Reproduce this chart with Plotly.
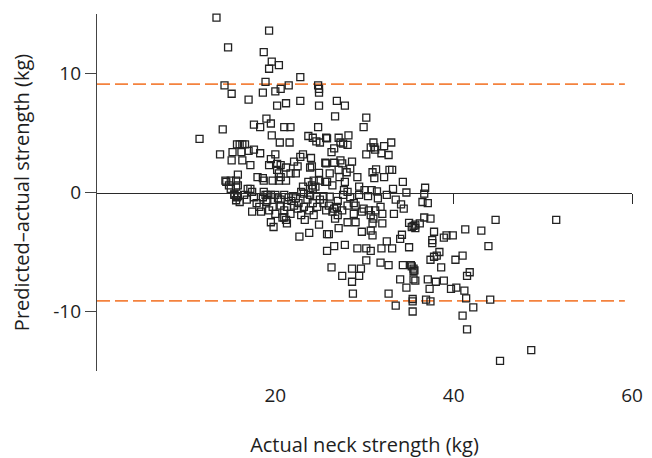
import plotly.graph_objects as go

# ---- data: (actual neck strength kg, predicted - actual kg) ----
band_10_20 = [
    (13.4, 14.7), (19.3, 13.6), (14.7, 12.2), (18.7, 11.8), (19.6, 11.0), (19.3, 10.4),
    (14.3, 9.0), (18.9, 9.3), (15.1, 8.3), (18.6, 8.4), (17.0, 7.8),
    (14.1, 5.3), (11.5, 4.5), (19.0, 6.2), (17.6, 5.7), (18.3, 5.5), (19.5, 5.8), (19.6, 4.8),
    (15.7, 4.05), (16.0, 4.05), (16.3, 4.05), (16.6, 4.05), (13.8, 3.2), (15.2, 3.4),
    (16.2, 3.4), (17.0, 3.5), (17.6, 3.6), (18.3, 3.3), (15.1, 2.7), (16.3, 2.7), (17.2, 2.3),
    (19.5, 2.8), (19.3, 2.3),
    (15.8, 1.5), (14.4, 1.0), (15.0, 1.0), (15.6, 1.0), (14.5, 0.9), (14.8, 0.6), (15.8, 0.6),
    (18.0, 1.3), (18.6, 1.2), (18.7, 1.0), (19.7, 1.0), (17.2, 0.3), (15.0, 0.3), (15.6, 0.5),
    (15.4, -0.2), (15.8, -0.3), (16.5, -0.2), (17.4, 0.05), (18.7, 0.05), (18.9, -0.2),
    (19.5, -0.2), (15.4, -0.1), (15.7, -0.4), (15.6, -0.65), (16.9, 0.3), (17.6, -0.4),
    (18.6, -0.4), (19.1, -0.2), (19.1, -0.65), (17.4, -1.6), (18.4, -1.6), (19.3, -1.5),
    (19.5, -2.5), (19.8, -2.9), (19.0, -0.8), (19.7, -1.2), (16.0, -0.8), (16.8, -0.6),
    (17.9, -0.9), (18.2, -1.2),
]

band_20_30 = [
    (20.4, 10.7), (22.8, 9.7), (21.5, 9.0), (20.6, 8.7), (20.0, 8.5), (21.2, 7.5), (20.2, 7.3),
    (22.8, 7.7), (24.8, 9.0), (24.9, 8.7), (24.9, 8.4), (24.9, 7.3), (26.9, 7.7), (27.8, 7.3),
    (21.0, 5.5), (21.7, 5.5), (20.5, 4.2), (21.6, 4.2), (24.8, 5.5), (23.7, 4.75), (24.2, 4.6),
    (25.0, 4.2), (25.7, 4.6), (26.7, 6.4), (29.9, 5.5), (24.6, 4.3), (25.8, 4.55), (26.3, 3.4),
    (26.6, 3.7), (27.1, 4.6), (27.3, 4.2), (27.6, 4.1), (28.1, 4.0), (28.2, 4.8),
    (20.0, 3.2), (20.2, 2.4), (20.6, 2.3), (21.2, 2.1), (22.1, 2.6), (22.5, 2.2), (20.2, 1.9),
    (20.4, 1.6), (20.6, 1.3), (21.7, 1.6), (22.3, 1.6), (20.4, 1.0), (21.2, 1.0),
    (23.1, 3.2), (22.8, 3.0), (24.0, 2.9), (25.7, 2.45), (24.1, 2.2), (24.9, 1.65), (24.3, 1.0),
    (23.7, 0.9), (24.1, 0.6), (23.1, 0.5), (25.6, 0.9), (23.9, 2.1), (25.6, 2.5), (26.6, 2.5),
    (27.3, 2.7), (27.5, 2.45), (28.6, 2.6), (26.1, 1.6), (27.1, 1.9), (27.2, 1.3), (28.0, 1.7),
    (28.4, 2.0), (29.2, 1.3), (24.5, 0.5), (24.2, 0.3), (24.9, 1.0), (25.8, 0.9), (26.4, 0.6),
    (27.8, 0.9), (29.4, 0.5), (27.7, 0.2), (28.1, 0.05),
    (20.0, -0.2), (21.0, -0.2), (22.0, -0.3), (23.2, -0.1), (23.9, -0.2), (24.6, -0.3),
    (25.4, -0.3), (26.1, -0.35), (27.6, -0.2), (29.4, -0.2), (22.9, 0.05), (22.3, -0.5),
    (20.6, -0.6), (21.5, -0.4), (20.3, -0.5), (21.8, -0.7), (22.6, -0.9), (23.6, -0.6),
    (24.2, -0.9), (25.0, -0.6), (27.0, -0.7), (28.4, -0.4), (29.0, -1.1),
    (20.0, -1.8), (20.6, -1.1), (21.0, -1.5), (20.8, -2.1), (21.3, -1.2), (21.7, -1.8),
    (22.1, -1.1), (22.5, -1.35), (21.3, -2.6), (22.7, -3.7), (21.0, -2.1), (21.2, -2.3),
    (23.3, -2.3), (24.3, -1.9), (24.9, -2.7), (23.2, -1.2), (23.8, -3.4), (24.7, -1.2),
    (25.4, -0.9), (26.0, -1.1), (26.6, -1.35), (26.4, -1.6), (27.0, -1.9), (27.5, -1.5),
    (28.1, -1.1), (28.8, -0.9), (26.7, -2.2), (26.0, -3.5), (27.1, -3.0), (28.1, -2.5),
    (29.0, -2.5), (28.8, -1.8), (29.7, -1.6), (29.7, -3.3), (23.8, -1.5), (22.9, -1.9),
    (26.9, -1.2), (25.7, -1.5),
    (25.8, -3.5), (25.8, -4.9), (26.6, -4.5), (27.8, -4.4), (29.2, -4.7), (26.3, -6.3),
    (28.6, -6.4), (29.6, -6.4), (27.5, -7.0), (29.4, -7.0), (28.6, -7.5), (28.7, -8.5),
]

band_30_40 = [
    (30.2, 6.3), (31.0, 4.2), (31.1, 3.8), (30.7, 3.8), (31.2, 3.6), (33.0, 4.2), (32.2, 3.9),
    (31.9, 3.3), (32.7, 3.15), (30.2, 3.2),
    (30.9, 1.7), (31.3, 1.95), (31.1, 1.2), (32.2, 1.3), (32.8, 1.9), (33.1, 1.9), (34.3, 0.9),
    (33.2, 0.3), (34.7, 0.0), (31.4, 0.1), (30.0, 0.2), (30.8, 0.2), (36.8, 0.4), (36.7, -0.1),
    (36.5, -0.8), (37.1, -0.9), (36.7, -2.1), (37.4, -2.2), (36.2, -2.6), (35.5, -2.8),
    (35.7, -3.0), (37.8, -3.3), (37.6, -4.0), (37.6, -4.25), (39.2, -3.6), (38.9, -3.8),
    (39.9, -3.6),
    (30.4, -0.3), (31.5, -0.5), (32.5, -0.2), (33.5, -0.6),
    (30.5, -1.5), (29.9, -1.35), (30.7, -1.9), (31.2, -1.5), (31.8, -1.2), (32.0, -1.8),
    (30.9, -2.6), (32.0, -2.6), (31.0, -2.2), (30.7, -3.2), (30.9, -3.6), (33.3, -1.8),
    (34.1, -1.0), (34.4, -1.35), (35.0, -2.55), (35.7, -2.7), (35.3, -2.9), (34.2, -3.55),
    (34.0, -3.9), (35.0, -4.6), (30.2, -4.7), (30.7, -4.9), (31.9, -4.7), (32.5, -4.1),
    (33.1, -4.7), (30.2, -5.7), (31.8, -5.9), (32.7, -6.1), (34.3, -6.1), (35.3, -6.2),
    (35.5, -6.6), (34.0, -7.3), (34.7, -8.0), (35.7, -7.4), (32.7, -8.5), (35.4, -8.95),
    (33.5, -9.5), (35.4, -9.15), (35.4, -10.0),
    (38.4, -5.0), (38.1, -5.3), (37.8, -5.4), (37.4, -5.65), (35.2, -6.1), (35.5, -6.4),
    (35.6, -6.55), (38.6, -6.3), (35.5, -7.3), (37.1, -7.3), (38.0, -7.5), (38.9, -7.4),
    (37.3, -8.1), (39.7, -8.1), (36.9, -9.0), (37.4, -9.15),
]

band_40_60 = [
    (41.3, -3.1), (43.1, -3.2), (44.7, -2.3), (51.5, -2.3), (43.9, -4.5), (41.0, -5.3),
    (40.2, -5.65), (41.5, -7.0), (41.8, -6.7), (40.3, -8.0), (41.2, -8.25), (41.4, -8.9),
    (44.1, -9.0), (42.2, -9.65), (41.0, -10.35), (41.5, -11.5), (48.7, -13.25), (45.2, -14.15),
]

limit_upper = 9.1
limit_lower = -9.1
limit_x_start = 0
limit_x_end = 59.2

x_ticks = [20, 40, 60]
y_ticks = [-10, 0, 10]
y_tick_text = ["-10", "0", "10"]

x_title = "Actual neck strength (kg)"
y_title = "Predicted\u2013actual strength (kg)"

# ---- build ----
points = band_10_20 + band_20_30 + band_30_40 + band_40_60
xs = [p[0] for p in points]
ys = [p[1] for p in points]

FONT = "Open Sans"
INK = "#1e1e1e"
ORANGE = "#F4823E"

fig = go.Figure()
fig.add_trace(go.Scatter(
    x=xs, y=ys, mode="markers", cliponaxis=False, showlegend=False,
    marker=dict(symbol="square-open", size=7, color="#222222",
                line=dict(width=1.3, color="#222222")),
))
# helper trace to activate the zero-line axis
fig.add_trace(go.Scatter(x=[None], y=[None], xaxis="x2", yaxis="y",
                         showlegend=False, hoverinfo="skip"))

for yv in (limit_upper, limit_lower):
    fig.add_shape(type="line", xref="x", yref="y", x0=limit_x_start, x1=limit_x_end,
                  y0=yv, y1=yv, line=dict(color=ORANGE, width=1.7, dash="13px,5px"),
                  layer="below")

# the page body has an 8px default margin, so the figure is sized to fit inside
fig.update_layout(
    width=644, height=450,
    margin=dict(l=89, r=20, t=6, b=87),
    paper_bgcolor="white", plot_bgcolor="white",
    font=dict(family=FONT, color=INK),
    xaxis=dict(
        range=[0, 60], showgrid=False, zeroline=False, showline=False, automargin=False,
        tickvals=x_ticks, ticks="outside", ticklen=7, tickcolor="rgba(0,0,0,0)",
        tickfont=dict(size=19, family=FONT, color=INK),
        title=dict(text=x_title, font=dict(size=20, family=FONT, color=INK), standoff=42),
    ),
    xaxis2=dict(
        range=[0, 60], overlaying="x", anchor="free", position=0.5, side="bottom",
        showgrid=False, zeroline=False, showline=True, linecolor="#2a2a2a", linewidth=1.3,
        tickvals=x_ticks, ticks="outside", ticklen=10, tickwidth=1.3, tickcolor="#2a2a2a",
        showticklabels=False, automargin=False,
    ),
    yaxis=dict(
        range=[-15, 15], showgrid=False, zeroline=False, showline=True, automargin=False,
        linecolor="#444444", linewidth=1.3,
        tickvals=y_ticks, ticktext=y_tick_text, ticks="outside", ticklen=11,
        tickwidth=1.3, tickcolor="#444444",
        tickfont=dict(size=19, family=FONT, color=INK),
        title=dict(text=y_title, font=dict(size=20, family=FONT, color=INK), standoff=21),
    ),
)

fig.write_html("out.html")
